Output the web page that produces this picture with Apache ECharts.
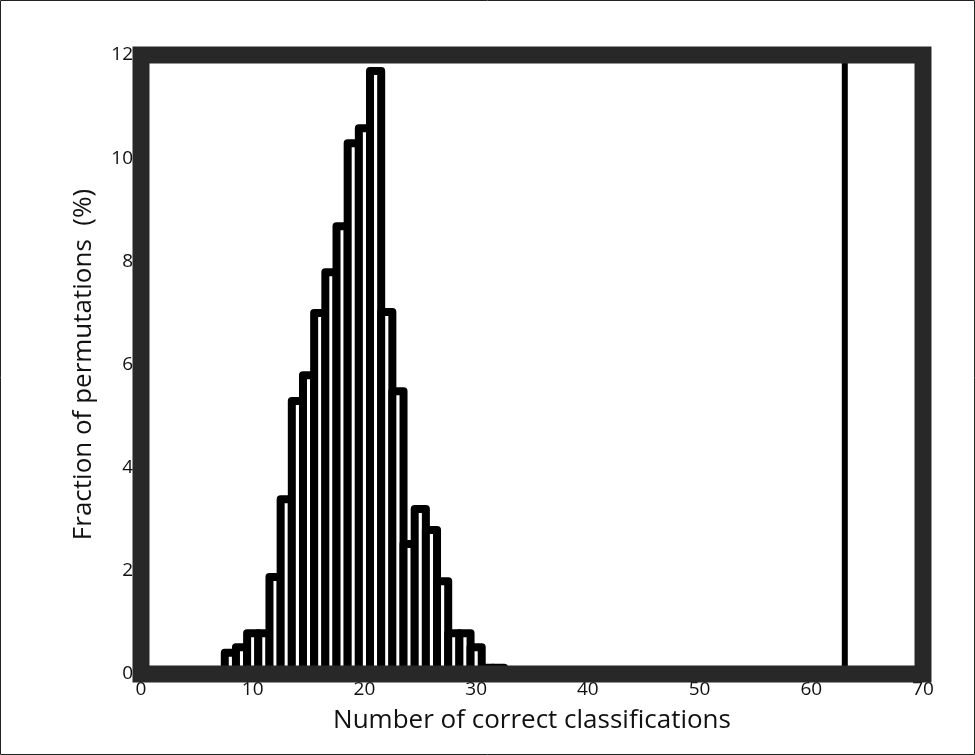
<!DOCTYPE html>
<html lang="en">
<head>
    <meta charset="UTF-8">
    <title>Permutation test histogram</title>
    <script src="https://cdn.jsdelivr.net/npm/echarts@6/dist/echarts.min.js"></script>
    <style>
        html, body { margin: 0; padding: 0; background: #fff; }
        #chart { width: 975px; height: 755px; }
    </style>
</head>
<body>
<div id="chart"></div>
<script>
    // number of correct classifications per permutation (bin centres)
    const counts = [8, 9, 10, 11, 12, 13, 14, 15, 16, 17, 18, 19, 20, 21, 22, 23, 24, 25, 26, 27, 28, 29, 30, 31, 32];
    // fraction of permutations (%) in each bin
    const fractions = [0.41, 0.52, 0.79, 0.79, 1.88, 3.39, 5.29, 5.79, 7.0, 7.79, 8.68, 10.29, 10.58, 11.69,
        7.02, 5.48, 2.52, 3.2, 2.79, 1.8, 0.79, 0.79, 0.52, 0.12, 0.12];
    // score obtained with the true labels
    const observed = 63;
    const xTicks = [0, 10, 20, 30, 40, 50, 60, 70];
    const yTicks = [0, 2, 4, 6, 8, 10, 12];

    const labelFont = {color: '#111', fontSize: 19, fontFamily: 'Open Sans'};
    const titleFont = {color: '#111', fontSize: 26, fontFamily: 'Open Sans'};

    const chart = echarts.init(document.getElementById('chart'));
    chart.setOption({
        animation: false,
        backgroundColor: '#fff',
        graphic: [{
            type: 'rect',
            shape: {x: 0.5, y: 0.5, width: 974, height: 754},
            style: {fill: 'none', stroke: '#222', lineWidth: 1},
            silent: true
        }],
        grid: {
            show: true,
            z: 10,
            left: 141,
            right: 52,
            top: 55,
            bottom: 81,
            backgroundColor: 'transparent',
            borderColor: '#282828',
            borderWidth: 17
        },
        xAxis: {
            type: 'value',
            min: xTicks[0],
            max: xTicks[xTicks.length - 1],
            interval: 10,
            name: 'Number of correct classifications',
            nameLocation: 'middle',
            nameGap: 34,
            nameTextStyle: titleFont,
            axisLine: {show: false},
            axisTick: {show: false},
            splitLine: {show: false},
            axisLabel: Object.assign({margin: 6}, labelFont)
        },
        yAxis: {
            type: 'value',
            min: yTicks[0],
            max: yTicks[yTicks.length - 1],
            interval: 2,
            name: 'Fraction of permutations  (%)',
            nameLocation: 'middle',
            nameGap: 44,
            nameTextStyle: titleFont,
            axisLine: {show: false},
            axisTick: {show: false},
            splitLine: {show: false},
            axisLabel: Object.assign({margin: 8}, labelFont)
        },
        series: [
            {
                type: 'custom',
                data: counts.map((c, i) => [c, fractions[i]]),
                renderItem: function (params, api) {
                    const x = api.value(0);
                    const v = api.value(1);
                    const topLeft = api.coord([x - 0.5, v]);
                    const bottomRight = api.coord([x + 0.5, 0]);
                    return {
                        type: 'rect',
                        shape: {
                            x: topLeft[0],
                            y: topLeft[1],
                            width: bottomRight[0] - topLeft[0],
                            height: bottomRight[1] - topLeft[1]
                        },
                        style: {fill: '#fff', stroke: '#000', lineWidth: 8, lineJoin: 'round'}
                    };
                }
            },
            {
                type: 'line',
                data: [[observed, yTicks[0]], [observed, yTicks[yTicks.length - 1]]],
                symbol: 'none',
                lineStyle: {color: '#000', width: 6}
            }
        ]
    });
</script>
</body>
</html>
